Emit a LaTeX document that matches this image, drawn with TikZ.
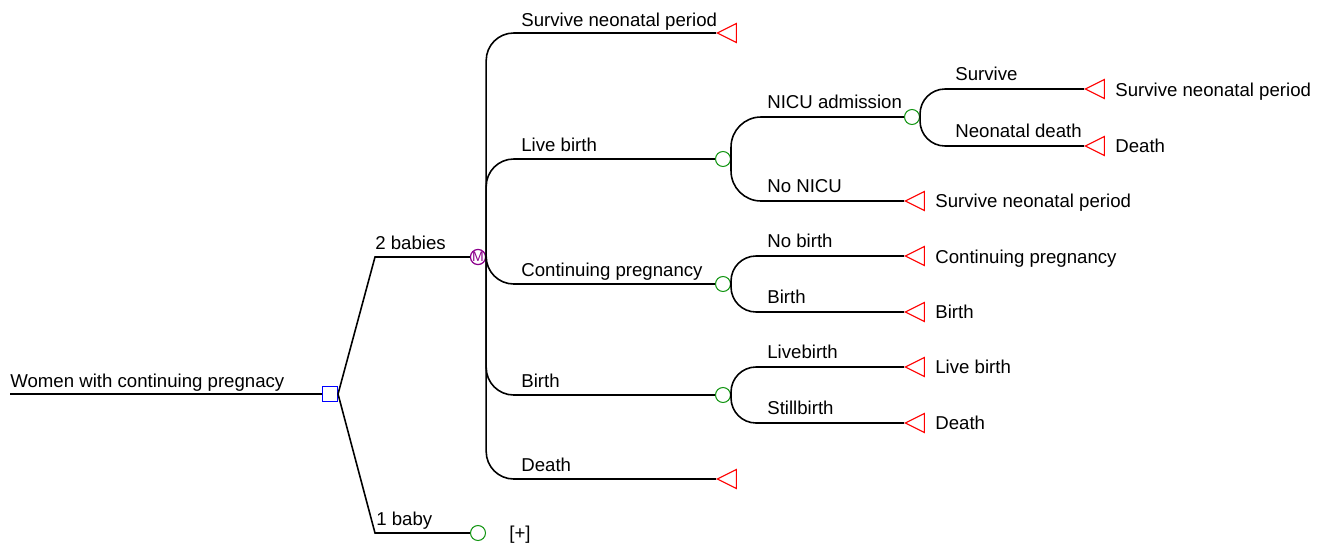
\documentclass[tikz,border=0pt]{standalone}
\usepackage{fontspec}
\setmainfont{Liberation Sans}
\usetikzlibrary{shapes.geometric}
\definecolor{decblue}{RGB}{0,0,255}
\definecolor{chgreen}{RGB}{20,150,20}
\definecolor{mkpurple}{RGB}{140,0,140}
\definecolor{trmred}{RGB}{255,0,0}
\tikzset{
  decision/.style={draw=decblue, rectangle, minimum size=0.3cm, inner sep=0pt, line width=0.6pt},
  chance/.style={draw=chgreen, circle, minimum size=0.3cm, inner sep=0pt, line width=0.6pt},
  markov/.style={draw=mkpurple, circle, minimum size=0.3cm, inner sep=0pt, line width=0.7pt, text=mkpurple, font=\fontsize{8}{8}\selectfont},
  terminal/.style={draw=trmred, isosceles triangle, isosceles triangle stretches, shape border rotate=180, minimum width=0.38cm, minimum height=0.38cm, inner sep=0pt, line width=0.6pt, anchor=apex},
  lbl/.style={anchor=base west, inner sep=0pt},
  outc/.style={anchor=base west, inner sep=0pt},
  branch/.style={line width=0.9pt},
  every node/.style={font=\fontsize{10.6}{12}\selectfont}
}
\begin{document}
\begin{tikzpicture}[x=0.02cm, y=-0.02cm]
  \useasboundingbox (0,0) rectangle (1324,545);
  % tree nodes
  \coordinate (R0) at (10,394);
  \node[decision] (D0) at (330,394) {};
  \node[markov] (M0) at (478,257) {M};
  \node[chance] (C0) at (478,533) {};
  \node[chance] (C1) at (723,159) {};
  \node[chance] (C2) at (723,284) {};
  \node[chance] (C3) at (723,395) {};
  \node[chance] (C4) at (912,117) {};
  \node[terminal] (T0) at (716,33) {};
  \node[terminal] (T1) at (716,479) {};
  \node[terminal] (T2) at (904,201) {};
  \node[terminal] (T3) at (904,256) {};
  \node[terminal] (T4) at (904,312) {};
  \node[terminal] (T5) at (904,367) {};
  \node[terminal] (T6) at (904,423) {};
  \node[terminal] (T7) at (1084,89) {};
  \node[terminal] (T8) at (1084,146) {};
  % branches
  \draw[branch] (R0) -- (D0);
  \draw[branch] (D0.east) -- (375,257) -- (M0);
  \draw[branch] (D0.east) -- (375,533) -- (C0);
  \draw[branch, rounded corners=0.55cm] (M0.east) |- (T0.apex);
  \draw[branch, rounded corners=0.55cm] (M0.east) |- (C1.west);
  \draw[branch, rounded corners=0.55cm] (M0.east) |- (C2.west);
  \draw[branch, rounded corners=0.55cm] (M0.east) |- (C3.west);
  \draw[branch, rounded corners=0.55cm] (M0.east) |- (T1.apex);
  \draw[branch, rounded corners=0.6cm] (C1.east) |- (C4.west);
  \draw[branch, rounded corners=0.6cm] (C1.east) |- (T2.apex);
  \draw[branch, rounded corners=0.5cm] (C2.east) |- (T3.apex);
  \draw[branch, rounded corners=0.5cm] (C2.east) |- (T4.apex);
  \draw[branch, rounded corners=0.5cm] (C3.east) |- (T5.apex);
  \draw[branch, rounded corners=0.5cm] (C3.east) |- (T6.apex);
  \draw[branch, rounded corners=0.5cm] (C4.east) |- (T7.apex);
  \draw[branch, rounded corners=0.5cm] (C4.east) |- (T8.apex);
  % branch labels
  \node[lbl] (LR0) at (10,387) {Women with continuing pregnacy};
  \node[lbl] (LD1) at (375,249) {2 babies};
  \node[lbl] (LD2) at (376,525) {1 baby};
  \node[lbl] (LM1) at (521,26) {Survive neonatal period};
  \node[lbl] (LM2) at (521,151) {Live birth};
  \node[lbl] (LM3) at (521,276) {Continuing pregnancy};
  \node[lbl] (LM4) at (521,387) {Birth};
  \node[lbl] (LM5) at (521,471) {Death};
  \node[lbl] (LC11) at (767,108) {NICU admission};
  \node[lbl] (LC12) at (767,192) {No NICU};
  \node[lbl] (LC21) at (767,247) {No birth};
  \node[lbl] (LC22) at (767,303) {Birth};
  \node[lbl] (LC31) at (767,358) {Livebirth};
  \node[lbl] (LC32) at (767,414) {Stillbirth};
  \node[lbl] (LC41) at (955,80) {Survive};
  \node[lbl] (LC42) at (955,137) {Neonatal death};
  % outcomes
  \node[outc] (O2) at (935,207) {Survive neonatal period};
  \node[outc] (O3) at (935,263) {Continuing pregnancy};
  \node[outc] (O4) at (935,318) {Birth};
  \node[outc] (O5) at (935,373) {Live birth};
  \node[outc] (O6) at (935,429) {Death};
  \node[outc] (O7) at (1115,96) {Survive neonatal period};
  \node[outc] (O8) at (1115,152) {Death};
  \node[outc] (OC0) at (509,539) {[+]};
\end{tikzpicture}
\end{document}
